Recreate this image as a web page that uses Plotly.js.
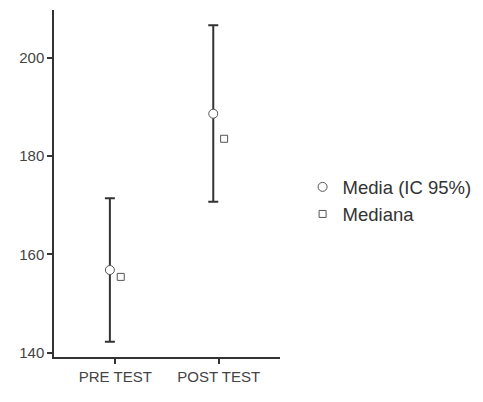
<!DOCTYPE html>
<html>
<head>
<meta charset="utf-8">
<script src="https://cdn.plot.ly/plotly-3.0.1.min.js"></script>
<style>
  body { margin: 0; background: #fff; }
  #chart { width: 483px; height: 402px; }
</style>
</head>
<body>
<div id="chart"></div>
<script>
// momentos de medición
const momentos = ['PRE TEST', 'POST TEST'];

// media con su intervalo de confianza al 95%
const media = [156.8, 188.6];
const icSup = [14.6, 18.0];
const icInf = [14.6, 17.9];

// mediana
const mediana = [155.4, 183.5];

const traceMedia = {
    x: momentos,
    y: media,
    name: 'Media (IC 95%)',
    type: 'scatter',
    mode: 'markers',
    offsetgroup: 'media',
    marker: {
        symbol: 'circle',
        size: 9,
        color: '#ffffff',
        line: { color: '#555555', width: 1 }
    },
    error_y: {
        type: 'data',
        symmetric: false,
        array: icSup,
        arrayminus: icInf,
        color: '#333333',
        thickness: 2,
        width: 5
    }
};

const traceMediana = {
    x: momentos,
    y: mediana,
    name: 'Mediana',
    type: 'scatter',
    mode: 'markers',
    offsetgroup: 'mediana',
    marker: {
        symbol: 'square',
        size: 7,
        color: '#ffffff',
        line: { color: '#555555', width: 1 }
    }
};

const layout = {
    width: 483,
    height: 402,
    margin: { l: 54, r: 203, t: 10, b: 45, autoexpand: false },
    paper_bgcolor: '#ffffff',
    plot_bgcolor: '#ffffff',
    scattermode: 'group',
    scattergap: 0.79,
    font: { family: '"Liberation Sans", Arial, sans-serif', color: '#444444', size: 15 },
    xaxis: {
        type: 'category',
        range: [-0.593, 1.593],
        showgrid: false,
        zeroline: false,
        showline: true,
        linecolor: '#333333',
        linewidth: 1.5,
        ticks: 'outside',
        ticklen: 5,
        tickcolor: '#333333',
        tickwidth: 1.5,
        tickfont: { size: 15, color: '#444444' }
    },
    yaxis: {
        range: [139.1, 209.7],
        tickvals: [140, 160, 180, 200],
        showgrid: false,
        zeroline: false,
        showline: true,
        linecolor: '#333333',
        linewidth: 1.5,
        ticks: 'outside',
        ticklen: 5,
        tickcolor: '#333333',
        tickwidth: 1.5,
        tickfont: { size: 15, color: '#444444' }
    },
    legend: {
        x: 1.1,
        xanchor: 'left',
        y: 0.45,
        yanchor: 'middle',
        font: { size: 18.5, color: '#333333' },
        tracegroupgap: 0,
        itemwidth: 30
    },
    showlegend: true
};

Plotly.newPlot('chart', [traceMedia, traceMediana], layout, { displayModeBar: false });
</script>
</body>
</html>
